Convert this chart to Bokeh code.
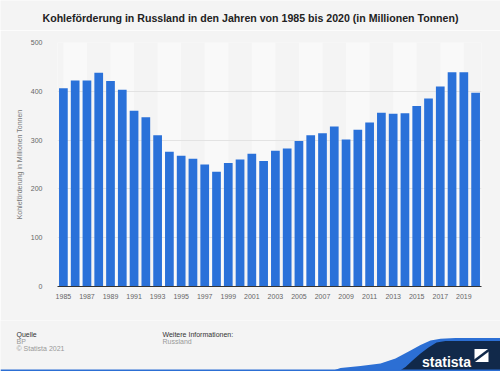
from bokeh.plotting import figure
from bokeh.models import Range1d, FixedTicker
from bokeh.layouts import column, row
from bokeh.embed import file_html
from bokeh.resources import INLINE
from bokeh.core.properties import value

# ---- data ----
years = list(range(1985, 2021))
values = [406, 422, 422, 438, 421, 403, 360, 347, 310, 276, 268, 262, 250, 235,
          253, 260, 272, 257, 278, 283, 298, 310, 314, 328, 301, 321, 336, 356,
          354, 355, 370, 385, 410, 439, 439, 397]
tick_years = list(range(1985, 2020, 2))
y_ticks = [0, 100, 200, 300, 400, 500]
title_text = "Kohleförderung in Russland in den Jahren von 1985 bis 2020 (in Millionen Tonnen)"
y_label = "Kohleförderung in Millionen Tonnen"
source_lines = ["Quelle", "BP", "© Statista 2021"]
info_lines = ["Weitere Informationen:", "Russland"]

# ---- styles ----
BG = "#f4f4f4"
BAND = "#f9f9f9"
BAR = "#2a71d9"
NAVY = "#11294a"
BLUE = "#2c6fd4"
FONT = "Liberation Sans"

# ---- header (title) ----
h = figure(width=500, height=30, x_range=Range1d(0, 500), y_range=Range1d(0, 30),
           output_backend="svg", toolbar_location=None,
           min_border_left=0, min_border_right=0, min_border_top=0, min_border_bottom=0,
           x_axis_location=None, y_axis_location=None,
           background_fill_color=BG, border_fill_color=BG)
h.outline_line_color = None
h.grid.visible = False
h.text(x=[250], y=[13], text=[title_text], text_color="#222222",
       text_font=value(FONT), text_font_size="10.6px", text_font_style="bold",
       text_align="center", text_baseline="middle")

# ---- chart ----
p = figure(width=500, height=290, x_range=Range1d(1984.5, 2020.5), y_range=Range1d(0, 500),
           output_backend="svg", toolbar_location=None, title=None,
           min_border_left=57, min_border_right=19, min_border_top=12, min_border_bottom=34,
           background_fill_color=BG, border_fill_color=BG)
p.outline_line_color = None

band_starts = list(range(1985, 2021, 4))
p.quad(left=band_starts, right=[b + 2 for b in band_starts], bottom=0, top=500,
       fill_color=BAND, line_color=None, level="image")

p.vbar(x=years, top=values, width=0.74, fill_color=BAR, line_color=None)

p.xgrid.visible = False
p.ygrid.grid_line_color = "#e3e3e3"
p.ygrid.grid_line_width = 1

p.yaxis.ticker = FixedTicker(ticks=y_ticks)
p.yaxis.axis_line_color = None
p.yaxis.major_tick_line_color = None
p.yaxis.minor_tick_line_color = None
p.yaxis.major_label_text_font = FONT
p.yaxis.major_label_text_font_size = "7px"
p.yaxis.major_label_text_color = "#666666"
p.yaxis.major_label_standoff = 9
p.yaxis.axis_label = y_label
p.yaxis.axis_label_text_font = FONT
p.yaxis.axis_label_text_font_size = "7px"
p.yaxis.axis_label_text_font_style = "normal"
p.yaxis.axis_label_text_color = "#777777"
p.yaxis.axis_label_standoff = 5

p.xaxis.ticker = FixedTicker(ticks=tick_years)
p.xaxis.axis_line_color = "#333333"
p.xaxis.axis_line_width = 1
p.xaxis.major_tick_line_color = None
p.xaxis.minor_tick_line_color = None
p.xaxis.major_tick_out = 0
p.xaxis.major_label_text_font = FONT
p.xaxis.major_label_text_font_size = "7px"
p.xaxis.major_label_text_color = "#666666"
p.xaxis.major_label_standoff = 7

# ---- footer ----
q = figure(width=500, height=51, x_range=Range1d(0, 500), y_range=Range1d(0, 51),
           output_backend="svg", toolbar_location=None,
           min_border_left=0, min_border_right=0, min_border_top=0, min_border_bottom=0,
           x_axis_location=None, y_axis_location=None,
           background_fill_color=BG, border_fill_color=BG)
q.outline_line_color = None
q.grid.visible = False

q.text(x=[16, 16, 16], y=[37.5, 30.5, 23.5], text=source_lines,
       text_color=["#333333", "#999999", "#999999"],
       text_font=value(FONT), text_font_size="7px", text_baseline="middle")
q.text(x=[162, 162], y=[37.5, 30.5], text=info_lines,
       text_color=["#333333", "#999999"],
       text_font=value(FONT), text_font_size="7px", text_baseline="middle")

wave_blue_x = [330, 340, 360, 380, 395, 410, 420, 430, 440, 455, 500, 500]
wave_blue_y = [0, 3.5, 5.5, 8, 13, 21, 26.5, 31, 32.7, 33.4, 33.5, 0]
wave_navy_x = [398, 405, 412, 420, 428, 436, 445, 500, 500]
wave_navy_y = [0, 4.5, 11, 18, 24, 29, 30.4, 30.5, 0]
q.patch(wave_blue_x, wave_blue_y, fill_color=BLUE, line_color=None)
q.patch(wave_navy_x, wave_navy_y, fill_color=NAVY, line_color=None)
q.quad(left=[0], right=[500], bottom=[0], top=[2], fill_color=BLUE, line_color=None)

q.text(x=[421.5], y=[10], text=["statista"], text_color="white",
       text_font=value(FONT), text_font_size="14px", text_font_style="bold",
       text_baseline="alphabetic")
q.quad(left=[474], right=[488], bottom=[9.5], top=[22.5], fill_color="white", line_color=None)
q.line(x=[473, 489], y=[10, 22], line_color=NAVY, line_width=2.5)

layout = column(row(h), p, row(q), spacing=0)
open("out.html", "w").write(file_html(layout, INLINE))
